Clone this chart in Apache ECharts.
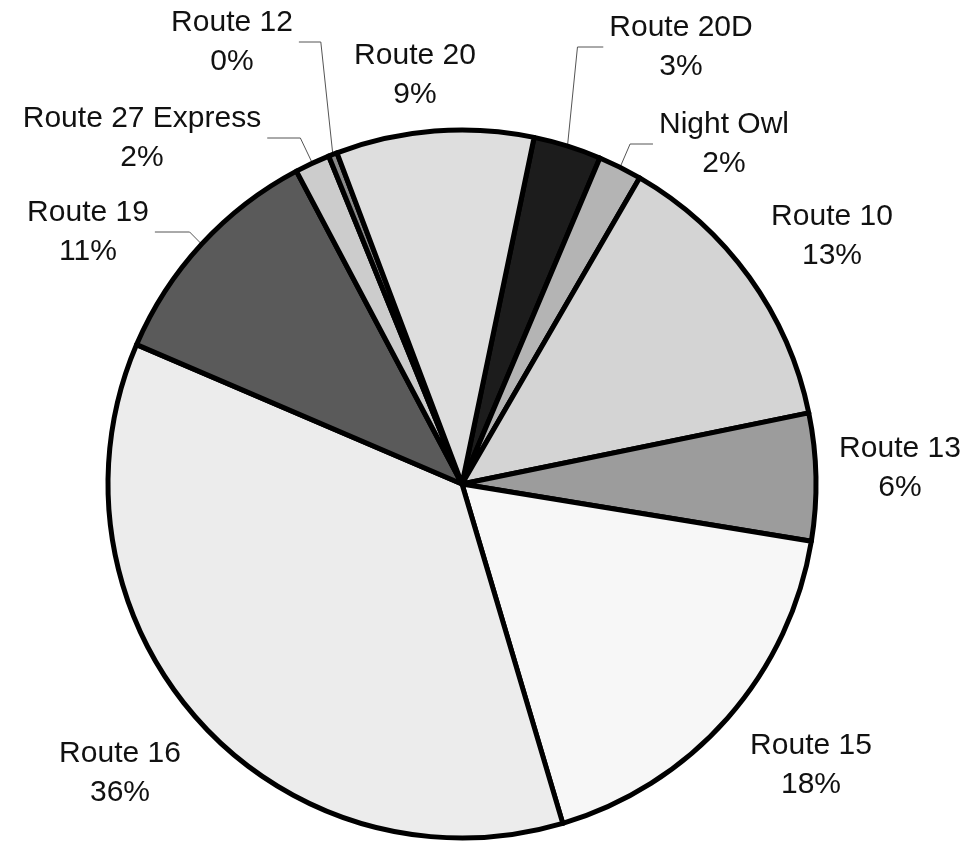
<!DOCTYPE html>
<html>
<head>
<meta charset="utf-8">
<script src="https://cdn.jsdelivr.net/npm/echarts@6/dist/echarts.min.js"></script>
<style>
html,body{margin:0;padding:0;background:#fff;}
#chart{width:972px;height:846px;}
</style>
</head>
<body>
<div id="chart"></div>
<script>
// ---- data (clockwise from the top) ----
const routes = ['Route 20D', 'Night Owl', 'Route 10', 'Route 13', 'Route 15', 'Route 16', 'Route 19', 'Route 27 Express', 'Route 12', 'Route 20'];
const shares = [3.1, 2.0, 13.4, 5.8, 17.8, 36.0, 10.8, 1.6, 0.4, 9.0];

// ---- styling ----
const fills = ['#1c1c1c', '#b4b4b4', '#d4d4d4', '#9c9c9c', '#f7f7f7', '#ececec', '#5a5a5a', '#cccccc', '#8a8a8a', '#dedede'];
const guided = ['Route 20D', 'Night Owl', 'Route 19', 'Route 27 Express', 'Route 12'];
const labelPos = {
  'Route 20D': [681, 47],
  'Night Owl': [724, 144],
  'Route 10': [832, 236],
  'Route 13': [900, 468],
  'Route 15': [811, 765],
  'Route 16': [120, 773],
  'Route 19': [88, 232],
  'Route 27 Express': [142, 138],
  'Route 12': [232, 42],
  'Route 20': [415, 75]
};

const chart = echarts.init(document.getElementById('chart'), null, {renderer: 'canvas'});
const data = routes.map((r, i) => ({
  name: r,
  value: shares[i],
  itemStyle: {color: fills[i]},
  labelLine: {show: guided.indexOf(r) >= 0}
}));

chart.setOption({
  backgroundColor: '#ffffff',
  animation: false,
  series: [{
    type: 'pie',
    center: [462, 484],
    radius: 354,
    startAngle: 78.25,
    clockwise: true,
    avoidLabelOverlap: false,
    data: data,
    itemStyle: {borderColor: '#000', borderWidth: 5},
    label: {
      show: true,
      position: 'outside',
      fontFamily: 'Liberation Sans, Arial, sans-serif',
      fontSize: 30,
      lineHeight: 39,
      color: '#111',
      align: 'center',
      formatter: p => p.name + '\n' + Math.round(p.percent) + '%'
    },
    labelLine: {
      length: 10,
      length2: 20,
      lineStyle: {color: '#555', width: 1}
    },
    labelLayout: function (params) {
      const name = routes[params.dataIndex];
      const pos = labelPos[name];
      const out = {x: pos[0], y: pos[1], align: 'center', verticalAlign: 'middle'};
      const pts = params.labelLinePoints;
      if (pts && pts.length && guided.indexOf(name) >= 0) {
        const a = pts[0];
        const w = params.labelRect.width;
        const left = a[0] > pos[0];
        // guide: from slice edge, to an elbow level with the label middle, then along to the text
        const endX = left ? pos[0] + w / 2 + 6 : pos[0] - w / 2 - 6;
        const elbowX = left ? a[0] - 12 : a[0] + 10;
        out.labelLinePoints = [[a[0], a[1]], [elbowX, pos[1]], [endX, pos[1]]];
      }
      return out;
    },
    emphasis: {disabled: true}
  }]
});
</script>
</body>
</html>
